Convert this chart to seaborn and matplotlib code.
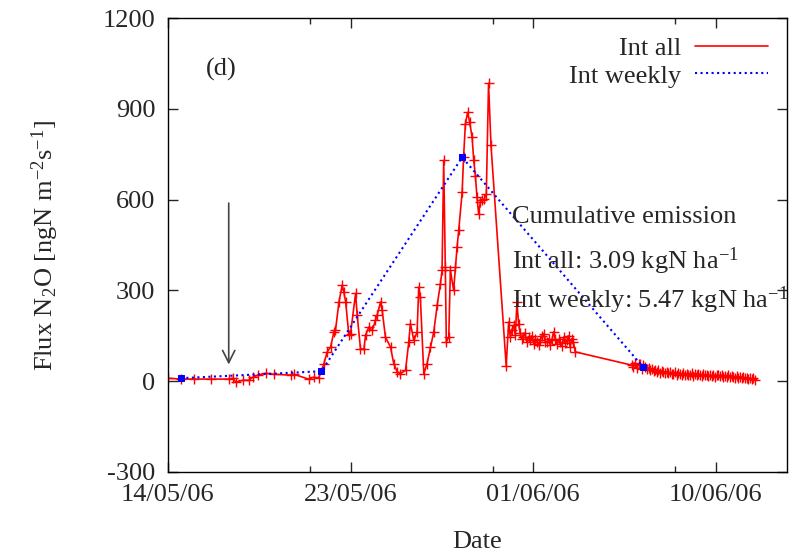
import numpy as np
import pandas as pd
import matplotlib
matplotlib.use("Agg")
import matplotlib.pyplot as plt
import matplotlib.dates as mdates
from matplotlib.lines import Line2D
import seaborn as sns

# ==========================================
# DATA (days after 14/05/06 00:00, flux in ngN m-2 s-1)
# ==========================================
start = pd.Timestamp("2006-05-14")

all_days = [
    0.0, 0.64, 1.28, 2.12, 3.0, 3.2, 3.35, 3.69, 3.98, 4.18, 4.43, 4.82, 5.21, 6.05, 6.2, 6.94, 7.18, 7.43,
    7.69, 7.85, 8.02, 8.18, 8.26, 8.43, 8.59, 8.67, 8.76, 8.92, 9.0, 9.25, 9.33, 9.49, 9.66, 9.74, 9.9,
    10.07, 10.23, 10.31, 10.48, 10.56, 10.72, 10.97, 11.13, 11.3, 11.46, 11.71, 11.87, 11.95, 12.12,
    12.28, 12.36, 12.44, 12.61, 12.77, 12.94, 13.1, 13.27, 13.43, 13.51, 13.59, 13.67, 13.72, 13.84,
    13.92, 14.08, 14.17, 14.25, 14.33, 14.5, 14.57,
    14.66, 14.77, 14.87, 14.99, 15.07, 15.15, 15.23, 15.31, 15.4, 15.5, 15.59, 15.69, 15.8, 15.92, 16.67,
    16.79, 16.87, 16.95, 17.03, 17.12, 17.2, 17.28, 17.36, 17.44, 17.51, 17.6, 17.69, 17.77, 17.86,
    17.94, 18.02, 18.1, 18.19, 18.27, 18.35, 18.43, 18.51, 18.6, 18.68, 18.76, 18.84, 18.92, 19.0,
    19.08, 19.17, 19.25, 19.33, 19.41, 19.5, 19.58, 19.66, 19.74, 19.82, 19.9, 19.98, 20.07,
    22.86, 22.92, 23.0, 23.1, 23.2, 23.27, 23.35, 23.43, 23.51, 23.6, 23.68, 23.76, 23.85, 23.93,
    24.01, 24.09, 24.17, 24.25, 24.33, 24.41, 24.5, 24.58, 24.66, 24.74, 24.82, 24.9, 24.98, 25.07,
    25.15, 25.23, 25.31, 25.4, 25.48, 25.56, 25.64, 25.73, 25.81, 25.89, 25.97, 26.05, 26.14, 26.22,
    26.3, 26.38, 26.46, 26.55, 26.63, 26.71, 26.79, 26.87, 26.96, 27.04, 27.12, 27.2, 27.28, 27.36,
    27.45, 27.53, 27.61, 27.7, 27.78, 27.86, 27.94, 28.02, 28.1, 28.19, 28.27, 28.35, 28.43, 28.51,
    28.6, 28.68, 28.76, 28.84, 28.92,
]
all_flux = [
    10, 7, 7, 7, 7, 10, -3, 3, 3, 13, 20, 26, 23, 20, 23, 7, 13, 10,
    58, 97, 113, 163, 168, 262, 317, 295, 262, 152, 157, 290, 218, 108, 105, 152, 179,
    168, 201, 218, 262, 234, 146, 113, 58, 31, 25, 36, 130, 190, 135,
    163, 311, 278, 25, 58, 113, 163, 251, 323, 367, 730, 377, 130, 146,
    367, 300, 377, 444, 499, 625, 741,
    851, 889, 856, 807, 730, 680, 609, 554, 592, 598, 603, 620, 985, 780, 50,
    196, 146, 170, 185, 152, 262, 190, 158, 140, 146, 160, 130, 145, 135,
    150, 124, 140, 130, 120, 135, 150, 157, 128, 130, 140, 119, 135, 163,
    140, 124, 138, 130, 118, 146, 125, 135, 150, 113, 140, 130, 97,
    53, 47, 60, 45, 58, 56, 42, 52, 47, 40, 45, 36, 42, 33,
    38, 31, 36, 28, 34, 31, 26, 32, 27, 30, 24, 25, 29, 22,
    27, 24, 20, 28, 22, 25, 19, 22, 26, 18, 23, 20, 25, 21,
    17, 23, 19, 22, 16, 20, 18, 22, 15, 19, 21, 16, 20, 14,
    18, 15, 19, 13, 17, 14, 12, 16, 11, 14, 10, 13, 9, 12,
    8, 11, 6, 9, 3,
]

weekly_days = [0.64, 7.57, 14.5, 23.4]
weekly_flux = [10, 33, 740, 48]

tick_days = [0, 9, 18, 27]
minor_days = [7, 16, 25]

df_all = pd.DataFrame({"date": start + pd.to_timedelta(all_days, unit="D"), "flux": all_flux})
df_week = pd.DataFrame({"date": start + pd.to_timedelta(weekly_days, unit="D"), "flux": weekly_flux})

# ==========================================
# STYLE
# ==========================================
sns.set_style("ticks")
plt.rcParams["font.family"] = ["Liberation Serif", "DejaVu Serif"]
plt.rcParams["mathtext.fontset"] = "custom"
plt.rcParams["mathtext.rm"] = "Liberation Serif"
plt.rcParams["mathtext.it"] = "Liberation Serif:italic"
plt.rcParams["axes.unicode_minus"] = False

fig, ax = plt.subplots(figsize=(8.03, 5.52), dpi=100)
fig.subplots_adjust(left=0.209, right=0.980, bottom=0.145, top=0.967)

sns.lineplot(data=df_all, x="date", y="flux", ax=ax, color="red", lw=1.2,
             marker="+", markersize=7, mew=1.0, mec="red", estimator=None, sort=False)
sns.lineplot(data=df_week, x="date", y="flux", ax=ax, color="blue", lw=1.5,
             linestyle=":", marker="s", markersize=5, mec="blue", estimator=None, sort=False)

ax.set_ylim(-300, 1200)
ax.set_yticks([-300, 0, 300, 600, 900, 1200])
ax.set_xlim(start, start + pd.Timedelta(days=30.5))
ax.set_xticks(start + pd.to_timedelta(tick_days, unit="D"))
ax.set_xticks(start + pd.to_timedelta(minor_days, unit="D"), minor=True)
ax.xaxis.set_major_formatter(mdates.DateFormatter("%d/%m/%y"))

ax.tick_params(which="both", direction="in", top=True, right=True, labelsize=19)
ax.tick_params(which="major", length=7, width=1)
ax.tick_params(which="minor", length=4, width=1)
ax.tick_params(axis="y", pad=9)
ax.tick_params(axis="x", pad=9)
for s in ax.spines.values():
    s.set_linewidth(1.0)
    s.set_color("black")

ax.set_xlabel("Date", fontsize=19, labelpad=18)
ax.set_ylabel(r"Flux N$_2$O [ngN m$^{-2}$s$^{-1}$]", fontsize=19, labelpad=30)

# panel tag, arrow and cumulative emission text
ax.text(start + pd.Timedelta(days=1.85), 1030, "(d)", fontsize=19, va="center", ha="left")
ax.annotate("", xy=(start + pd.Timedelta(days=3.0), 46), xytext=(start + pd.Timedelta(days=3.0), 598),
            arrowprops=dict(arrowstyle="->", color="#444444", lw=1.2, mutation_scale=22))
tx = start + pd.Timedelta(days=16.95)
ax.text(tx, 542, "Cumulative emission", fontsize=19, va="center", ha="left")
ax.text(tx, 395, r"Int all: 3.09 kgN ha$^{-1}$", fontsize=19, va="center", ha="left")
ax.text(tx, 268, r"Int weekly: 5.47 kgN ha$^{-1}$", fontsize=19, va="center", ha="left")

handles = [Line2D([], [], color="red", lw=1.2),
           Line2D([], [], color="blue", lw=1.5, linestyle=":")]
ax.legend(handles, ["Int all", "Int weekly"], loc="upper right", frameon=False, markerfirst=False,
          fontsize=19, handlelength=2.8, handletextpad=0.5, labelspacing=0.15,
          borderaxespad=0.3)

fig.savefig("out.png", dpi=100)
